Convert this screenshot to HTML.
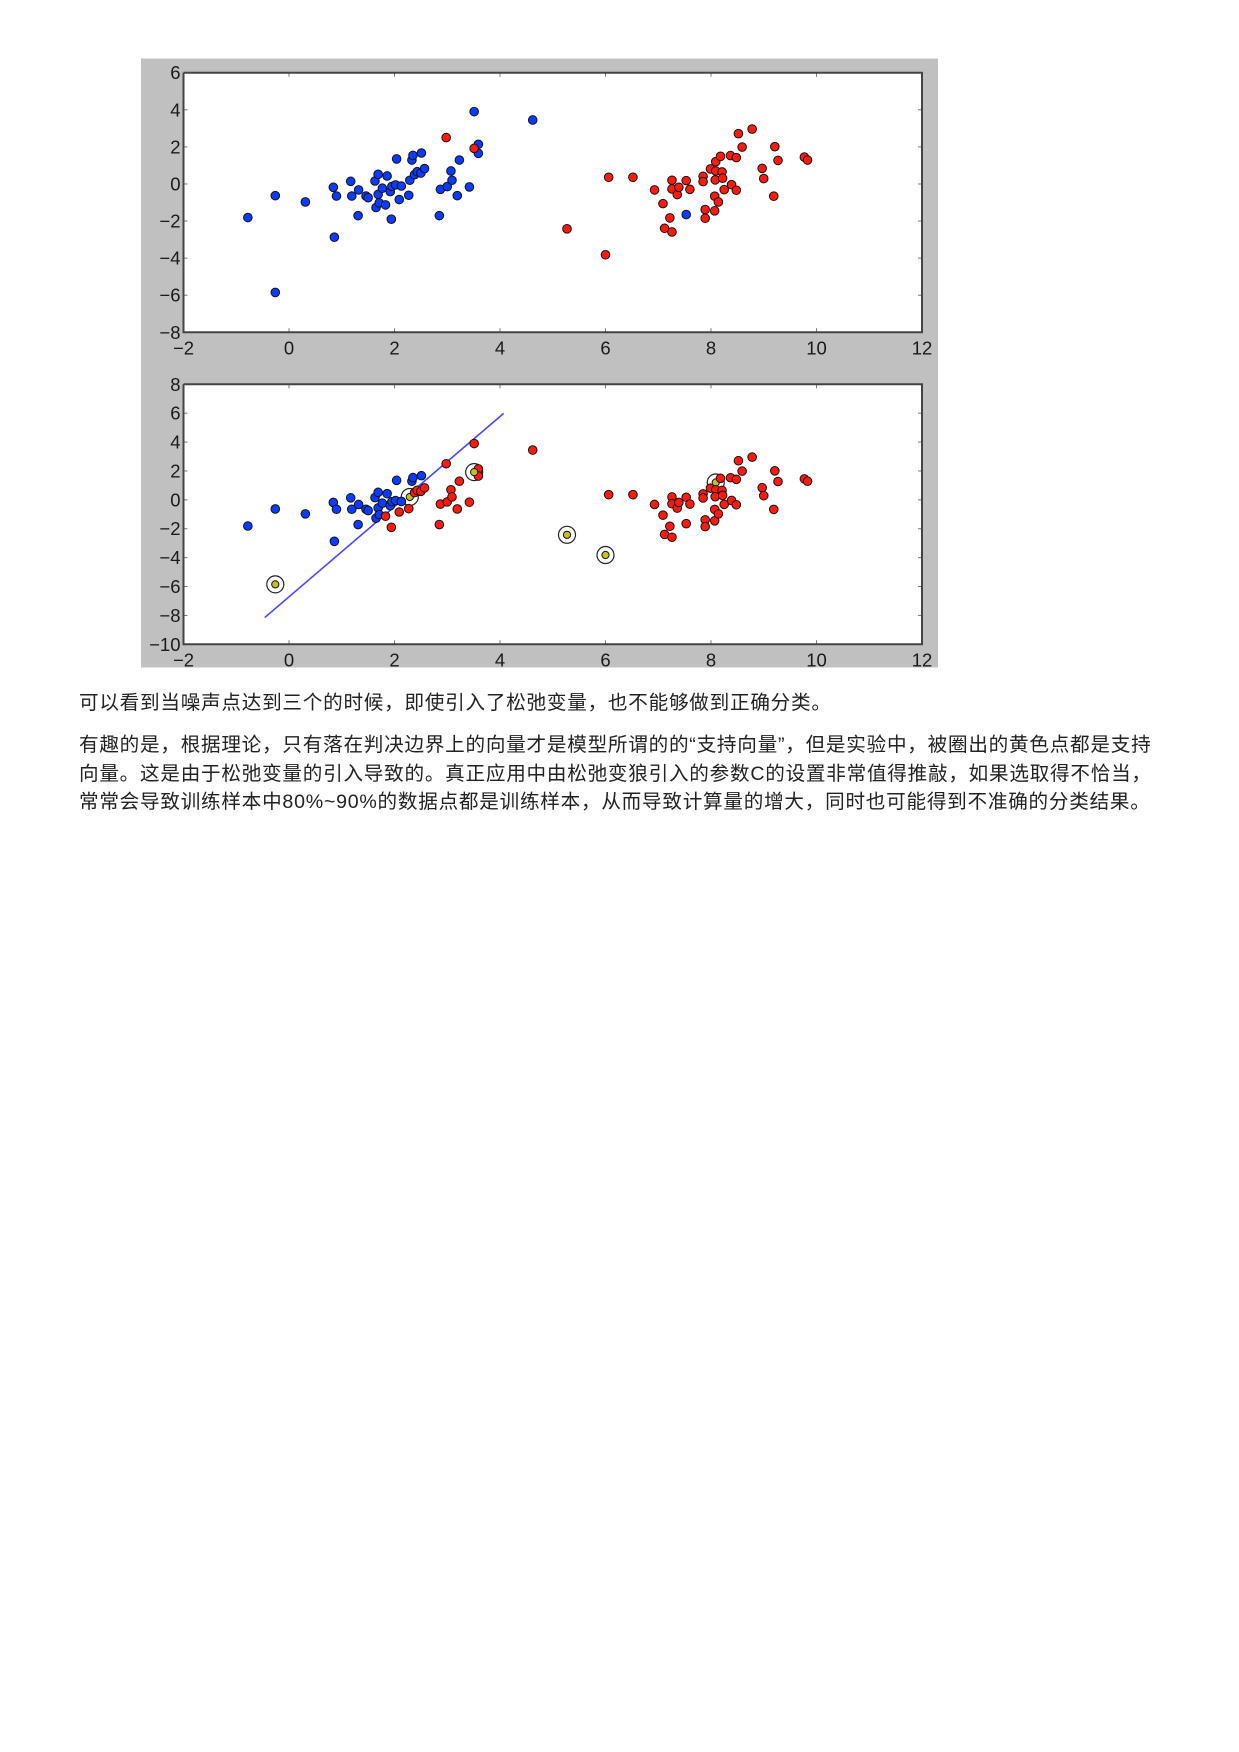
<!DOCTYPE html>
<html><head><meta charset="utf-8">
<style>
body{margin:0;background:#fff;width:1239px;height:1752px;position:relative;overflow:hidden}
svg{position:absolute;left:0;top:0}
.p{position:absolute;left:79px;margin:0;font-family:"Liberation Sans","Noto Sans CJK SC",sans-serif;font-size:19.6px;letter-spacing:0.75px;color:#222;white-space:nowrap;line-height:28.5px}
</style></head>
<body>
<svg id="fig" width="1239" height="700" xmlns="http://www.w3.org/2000/svg">
<rect x="141" y="58.5" width="797" height="609" fill="#c0c0c0"/>
</svg>
<p class="p" style="top:689px">可以看到当噪声点达到三个的时候，即使引入了松弛变量，也不能够做到正确分类。</p>
<p class="p" style="top:731px">有趣的是，根据理论，只有落在判决边界上的向量才是模型所谓的的“支持向量”，但是实验中，被圈出的黄色点都是支持<br>向量。这是由于松弛变量的引入导致的。真正应用中由松弛变狼引入的参数C的设置非常值得推敲，如果选取得不恰当，<br>常常会导致训练样本中80%~90%的数据点都是训练样本，从而导致计算量的增大，同时也可能得到不准确的分类结果。</p>
<script>
const xs=[-0.78,-0.26,-0.26,0.31,0.84,0.9,0.86,1.17,1.19,1.31,1.32,1.46,1.5,1.63,1.65,1.69,1.69,1.71,1.77,1.83,1.86,1.94,1.92,1.95,2.02,2.04,2.09,2.13,2.27,2.29,2.33,2.35,2.38,2.43,2.51,2.5,2.57,2.85,2.87,3.0,3.07,3.09,3.19,3.23,3.42,3.51,3.59,3.59,4.62,2.98,3.51,
5.27,6.0,6.06,6.52,6.93,7.09,7.12,7.22,7.26,7.26,7.26,7.36,7.39,7.53,7.6,7.85,7.85,7.89,7.89,7.99,8.07,8.07,8.09,8.09,8.08,8.14,8.18,8.21,8.22,8.25,8.37,8.39,8.48,8.48,8.52,8.59,8.78,8.97,9.0,9.19,9.21,9.27,9.77,9.83,7.53];
const ys=[-1.81,-0.63,-5.85,-0.97,-0.18,-0.65,-2.87,0.14,-0.65,-1.71,-0.32,-0.65,-0.74,0.16,-1.27,0.52,-0.56,-1.02,-0.23,-1.13,0.43,-1.9,-0.41,-0.13,-0.05,1.35,-0.84,-0.11,-0.61,0.2,1.29,1.54,0.5,0.66,1.67,0.59,0.83,-1.71,-0.29,-0.14,0.7,0.2,-0.63,1.29,-0.16,3.9,2.14,1.65,3.45,2.5,1.92,
-2.42,-3.82,0.36,0.36,-0.32,-1.06,-2.39,-1.83,-2.59,0.2,-0.27,-0.57,-0.18,0.18,-0.29,0.41,0.13,-1.38,-1.85,0.81,-0.66,-1.45,1.2,0.7,0.22,-0.97,1.49,0.65,0.31,-0.31,1.53,-0.04,1.42,-0.34,2.71,1.99,2.96,0.84,0.29,-0.66,2.01,1.27,1.45,1.29,-1.65];
const topClass="bbbbbbbbbbbbbbbbbbbbbbbbbbbbbbbbbbbbbbbbbbbbbbbbbrr"+"rrrrrrrrrrrrrrrrrrrrrrrrrrrrrrrrrrrrrrrrrrrrb";
const bottomClass="bbbbbbbbbbbbbbbbbbbrbrbbbbrbrbbbrrbrrrrrrrrrrrrrrrr"+"rrrrrrrrrrrrrrrrrrrrrrrrrrrrrrrrrrrrrrrrrrrrr";
const supportIdx=[2,29,50,51,52,73];
const lineX=[-0.46,4.07];
const lineY=[-8.15,5.99];
const xTicks=[-2,0,2,4,6,8,10,12];
const yTicksTop=[6,4,2,0,-2,-4,-6,-8];
const yTicksBottom=[8,6,4,2,0,-2,-4,-6,-8,-10];

const NS="http://www.w3.org/2000/svg";
const svg=document.getElementById('fig');
function mk(tag,attrs,parent){const e=document.createElementNS(NS,tag);for(const k in attrs)e.setAttribute(k,attrs[k]);(parent||svg).appendChild(e);return e;}
const X0=183.5,X1=922,XMIN=-2,XMAX=12;
function xs2px(v){return X0+(v-XMIN)/(XMAX-XMIN)*(X1-X0);}
function drawPanel(name,top,bottom,ymin,ymax,yTicks,cls,bottomPanel){
  const g=mk('g',{});
  
  
  const sy=v=>bottom-(v-ymin)/(ymax-ymin)*(bottom-top);
  const bg=mk('rect',{x:X0,y:top,width:X1-X0,height:bottom-top,fill:'#fff'},g);
  
  
  xTicks.forEach(t=>{const x=xs2px(t);
    mk('line',{x1:x,x2:x,y1:bottom,y2:bottom-4,stroke:'#777','stroke-width':1},g);
    mk('line',{x1:x,x2:x,y1:top,y2:top+4,stroke:'#777','stroke-width':1},g);
    const tx=mk('text',{x:x,y:bottom+22,'text-anchor':'middle','font-family':'Liberation Sans, sans-serif','font-size':18.5,fill:'#1a1a1a'},g);
    tx.textContent=String(t).replace('-','\u2212');
    
    
  });
  yTicks.forEach(t=>{const y=sy(t);
    mk('line',{x1:X0,x2:X0+4,y1:y,y2:y,stroke:'#777','stroke-width':1},g);
    mk('line',{x1:X1,x2:X1-4,y1:y,y2:y,stroke:'#777','stroke-width':1},g);
    const tx=mk('text',{x:X0-3,y:y+6.5,'text-anchor':'end','font-family':'Liberation Sans, sans-serif','font-size':18.5,fill:'#1a1a1a'},g);
    tx.textContent=String(t).replace('-','\u2212');
    
    
  });
  if(bottomPanel){
    const ln=mk('line',{x1:xs2px(lineX[0]),y1:sy(lineY[0]),x2:xs2px(lineX[1]),y2:sy(lineY[1]),stroke:'#4646ff','stroke-width':1.6},g);
    
    
    supportIdx.forEach(i=>{
      const c=mk('circle',{cx:xs2px(xs[i]),cy:sy(ys[i]),r:8.5,fill:'#fff',stroke:'#222','stroke-width':1.2},g);
      
      
    });
  }
  xs.forEach((v,i)=>{
    const sv=bottomPanel&&supportIdx.includes(i);
    const col=sv?'#c8c020':(cls[i]==='b'?'#0a3cff':'#ff1a10');
    const c=mk('circle',{cx:xs2px(v),cy:sy(ys[i]),r:sv?3.6:4.3,fill:col,stroke:'#111','stroke-width':1},g);
    
    
  });
  const fr=mk('polyline',{points:`${X0},${top} ${X0},${bottom} ${X1},${bottom} ${X1},${top} ${X0},${top}`,fill:'none',stroke:'#444','stroke-width':2},g);
  
  
}
drawPanel('top-scatter-panel',72.7,332.3,-8,6,yTicksTop,topClass,false);
drawPanel('bottom-scatter-panel',384.3,644.3,-10,8,yTicksBottom,bottomClass,true);
</script>
</body></html>
